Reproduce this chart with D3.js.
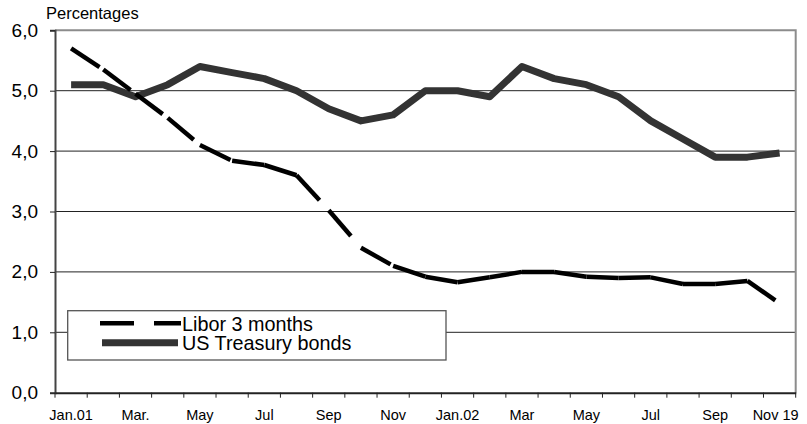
<!DOCTYPE html>
<html>
<head>
<meta charset="utf-8">
<script src="https://cdn.jsdelivr.net/npm/d3@7"></script>
<style>
  body { margin: 0; background: #fff; }
  text { font-family: "Liberation Sans", Arial, sans-serif; fill: #000; }
</style>
</head>
<body>
<div id="chart"></div>
<script>
// month labels (every other one is printed under the axis)
const months = ["Jan.01", "Feb", "Mar.", "Apr", "May", "Jun", "Jul", "Aug", "Sep", "Oct", "Nov", "Dec",
                "Jan.02", "Feb", "Mar", "Apr", "May", "Jun", "Jul", "Aug", "Sep", "Oct", "Nov 19"];
const libor = [5.7, 5.35, 4.95, 4.55, 4.1, 3.84, 3.77, 3.6, 3.02, 2.4, 2.1, 1.92,
               1.83, 1.91, 2.0, 2.0, 1.92, 1.9, 1.91, 1.8, 1.8, 1.85, 1.48];
const treasury = [5.1, 5.1, 4.9, 5.1, 5.4, 5.3, 5.2, 5.0, 4.7, 4.5, 4.6, 5.0,
                  5.0, 4.9, 5.4, 5.2, 5.1, 4.9, 4.5, 4.2, 3.9, 3.9, 3.97];
const yTicks = [0, 1, 2, 3, 4, 5, 6];
const seriesNames = ["Libor 3 months", "US Treasury bonds"];

const W = 807, H = 424;
const margin = { top: 30.3, right: 11.3, bottom: 31.3, left: 55 };
const width = W - margin.left - margin.right;
const height = H - margin.top - margin.bottom;

const svg = d3.select("#chart").append("svg")
    .attr("width", W)
    .attr("height", H);

const g = svg.append("g")
    .attr("transform", `translate(${margin.left},${margin.top})`);

const x = d3.scaleBand()
    .domain(d3.range(months.length))
    .range([0, width]);

const y = d3.scaleLinear()
    .domain([0, 6])
    .range([height, 0]);

const fmt = d => d3.format(".1f")(d).replace(".", ",");

// grid lines
g.append("g")
    .selectAll("line")
    .data(yTicks.filter(d => d > 0 && d < 6))
    .join("line")
    .attr("x1", 0).attr("x2", width)
    .attr("y1", d => y(d)).attr("y2", d => y(d))
    .attr("stroke", "#222")
    .attr("stroke-width", 1);

// top and right frame
g.append("path")
    .attr("d", `M0,${y(6)}H${width}V${height}`)
    .attr("fill", "none")
    .attr("stroke", "#8c8c8c")
    .attr("stroke-width", 2);

// y axis
const yAxis = g.append("g")
    .call(d3.axisLeft(y).tickValues(yTicks).tickSize(5).tickPadding(12).tickFormat(fmt));
yAxis.select(".domain").attr("stroke", "#444").attr("stroke-width", 2);
yAxis.selectAll(".tick line").attr("stroke", "#222");
yAxis.selectAll("text").style("font-size", "19px").attr("fill", "#000");

// x axis: labels at band centres, ticks on band edges
const xAxis = g.append("g")
    .attr("transform", `translate(0,${height})`)
    .call(d3.axisBottom(x).tickSize(0).tickPadding(17)
        .tickFormat(i => i % 2 === 0 ? months[i] : ""));
xAxis.select(".domain").attr("stroke", "#222").attr("stroke-width", 2);
xAxis.selectAll("text").style("font-size", "14.5px").attr("fill", "#000");
// last label is pulled in a little so it stays inside the frame
xAxis.selectAll(".tick").filter(i => i === months.length - 1)
    .select("text").attr("dx", -4);

g.append("g")
    .selectAll("line")
    .data(d3.range(months.length + 1))
    .join("line")
    .attr("x1", i => i < months.length ? x(i) : width)
    .attr("x2", i => i < months.length ? x(i) : width)
    .attr("y1", height).attr("y2", height + 5)
    .attr("stroke", "#222");

const cx = i => x(i) + x.bandwidth() / 2;

// US Treasury bonds
g.append("path")
    .datum(treasury)
    .attr("fill", "none")
    .attr("stroke", "#333")
    .attr("stroke-width", 7)
    .attr("stroke-linejoin", "round")
    .attr("d", d3.line().x((d, i) => cx(i)).y(d => y(d)));

// Libor: each segment dashed on its own, like the original
g.append("g")
    .selectAll("path")
    .data(d3.pairs(libor.map((v, i) => [cx(i), y(v)])))
    .join("path")
    .attr("fill", "none")
    .attr("stroke", "#000")
    .attr("stroke-width", 4.5)
    .attr("stroke-dasharray", "34,20")
    .attr("d", d => d3.line()(d));

// title
svg.append("text")
    .attr("x", 46)
    .attr("y", 19)
    .style("font-size", "16.5px")
    .text("Percentages");

// legend
const legend = svg.append("g");
legend.append("rect")
    .attr("x", 67.7).attr("y", 310.7)
    .attr("width", 378.3).attr("height", 49.3)
    .attr("fill", "#fff")
    .attr("stroke", "#555")
    .attr("stroke-width", 1.3);

legend.append("line")
    .attr("x1", 100).attr("x2", 181)
    .attr("y1", 323.3).attr("y2", 323.3)
    .attr("stroke", "#000")
    .attr("stroke-width", 4.5)
    .attr("stroke-dasharray", "34,20");

legend.append("line")
    .attr("x1", 102).attr("x2", 178)
    .attr("y1", 342.7).attr("y2", 342.7)
    .attr("stroke", "#333")
    .attr("stroke-width", 7);

legend.selectAll("text")
    .data(seriesNames)
    .join("text")
    .attr("x", 182)
    .attr("y", (d, i) => 330.5 + i * 19.8)
    .style("font-size", "19.8px")
    .text(d => d);
</script>
</body>
</html>
